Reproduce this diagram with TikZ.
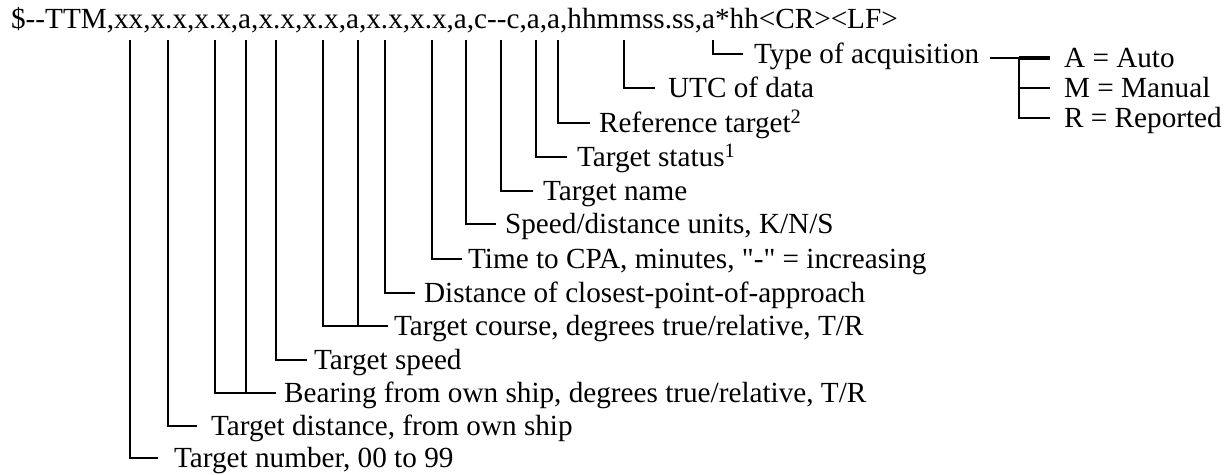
\documentclass[tikz,border=0pt]{standalone}
\usepackage{fontspec}
\newfontfamily\tmsfont{Liberation Serif}
\begin{document}
\begin{tikzpicture}[x=1pt,y=-1pt,line width=2.3pt,
  txt/.style={font=\fontsize{29.2}{34}\tmsfont},
  lbl/.style={txt,anchor=west,inner ysep=0pt,inner xsep=8pt,text height=19.3pt,text depth=0pt},
  lead/.style={line width=2.3pt}]
\fill[white] (0,0) rectangle (1228,474);
\useasboundingbox (0,0) rectangle (1228,474);
\node[txt,anchor=base west,inner sep=0pt] (hdr) at (10,28)
  {\$--TTM,xx,x.x,x.x,a,x.x,x.x,a,x.x,x.x,a,c--c,a,a,hhmmss.ss,a*hh<CR><LF>};
% field tops
\coordinate (f1) at (130,40);
\coordinate (f2) at (168,40);
\coordinate (f3) at (215,40);
\coordinate (f4) at (246,40);
\coordinate (f5) at (276,40);
\coordinate (f6) at (323,40);
\coordinate (f7) at (358,40);
\coordinate (f8) at (385,40);
\coordinate (f9) at (432,40);
\coordinate (f10) at (466,40);
\coordinate (f11) at (501,40);
\coordinate (f12) at (536,40);
\coordinate (f13) at (558,40);
\coordinate (f14) at (624,40);
\coordinate (f15) at (713,40);
% labels
\node[lbl,inner xsep=15pt] (l1) at (158,458) {Target number, 00 to 99};
\node[lbl,inner xsep=13pt] (l2) at (197,426) {Target distance, from own ship};
\node[lbl,inner xsep=7pt] (l3) at (276,393) {Bearing from own ship, degrees true/relative, T/R};
\node[lbl,inner xsep=6pt] (l4) at (307,360) {Target speed};
\node[lbl,inner xsep=5pt] (l5) at (388,326) {Target course, degrees true/relative, T/R};
\node[lbl,inner xsep=8pt] (l6) at (415,293) {Distance of closest-point-of-approach};
\node[lbl,inner xsep=5pt] (l7) at (462,259) {Time to CPA, minutes, "-" = increasing};
\node[lbl,inner xsep=8pt] (l8) at (496,224) {Speed/distance units, K/N/S};
\node[lbl,inner xsep=9pt] (l9) at (533,191) {Target name};
\node[lbl,inner xsep=9pt] (l10) at (567,157) {Target status\textsuperscript{1}};
\node[lbl,inner xsep=8pt] (l11) at (590,123) {Reference target\textsuperscript{2}};
\node[lbl,inner xsep=12pt] (l12) at (655,88) {UTC of data};
\node[lbl,inner xsep=10pt] (l13) at (743,54) {Type of acquisition};
% leaders
\draw[lead] (f1) |- (l1.west);
\draw[lead] (f2) |- (l2.west);
\draw[lead] (f3) |- (l3.west);
\draw[lead] (f4) -- (f4 |- l3.west);
\draw[lead] (f5) |- (l4.west);
\draw[lead] (f6) |- (l5.west);
\draw[lead] (f7) -- (f7 |- l5.west);
\draw[lead] (f8) |- (l6.west);
\draw[lead] (f9) |- (l7.west);
\draw[lead] (f10) |- (l8.west);
\draw[lead] (f11) |- (l9.west);
\draw[lead] (f12) |- (l10.west);
\draw[lead] (f13) |- (l11.west);
\draw[lead] (f14) |- (l12.west);
\draw[lead] (f15) |- (l13.west);
% acquisition tree
\coordinate (j) at (1019,58);
\node[lbl,inner xsep=13pt] (tA) at (1050,58) {A = Auto};
\node[lbl,inner xsep=13pt] (tM) at (1050,88) {M = Manual};
\node[lbl,inner xsep=13pt] (tR) at (1050,118) {R = Reported};
\draw[lead] ([yshift=-4pt]l13.east) -- (j);
\draw[line width=3.2pt] (j) -- (tA.west);
\draw[lead] (j) |- (tM.west);
\draw[lead] (j) |- (tR.west);
\end{tikzpicture}
\end{document}
